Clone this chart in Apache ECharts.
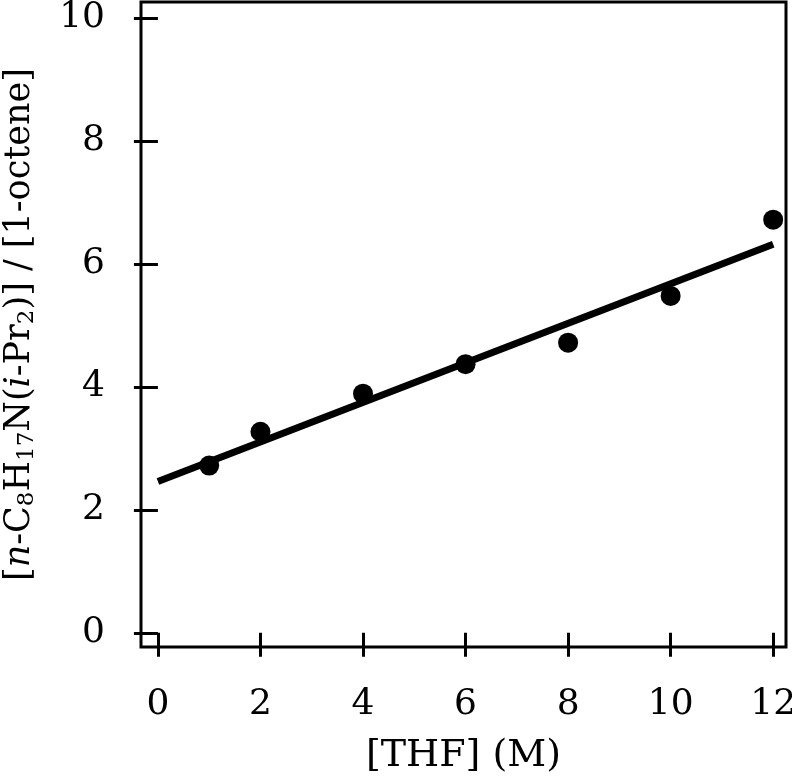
<!DOCTYPE html>
<html>
<head>
<meta charset="utf-8">
<script src="https://cdn.jsdelivr.net/npm/echarts@6/dist/echarts.min.js"></script>
<style>html,body{margin:0;padding:0;background:#fff;}#c{width:792px;height:781px;}</style>
</head>
<body>
<div id="c"></div>
<script>
// Data
var thf = [1, 2, 4, 6, 8, 10, 12];
var ratio = [2.72, 3.27, 3.89, 4.37, 4.72, 5.48, 6.72];
var fitX = [0, 12];
var fitY = [2.46, 6.32];
var xTicks = [0, 2, 4, 6, 8, 10, 12];
var yTicks = [0, 2, 4, 6, 8, 10];

var FONT = 'DejaVu Serif';
var chart = echarts.init(document.getElementById('c'), null, {renderer: 'canvas'});
var points = thf.map(function (x, i) { return [x, ratio[i]]; });
var fit = fitX.map(function (x, i) { return [x, fitY[i]]; });

var yName = '{b|[}{i|n}{b|-C}{s|8}{b|H}{s|17}{b|N(}{i|i}{b|-Pr}{s|2}{b|)] / [1-octene]}';

chart.setOption({
  animation: false,
  backgroundColor: '#fff',
  grid: {left: 141, right: 6, top: 2, bottom: 134, show: true, borderColor: '#000', borderWidth: 3,
         backgroundColor: 'transparent', containLabel: false, outerBoundsMode: 'none'},
  xAxis: {
    type: 'value', min: -0.33, max: 12.25,
    splitLine: {show: false},
    axisLine: {show: false},
    axisTick: {show: true, customValues: xTicks, length: 24, inside: false, lineStyle: {color: '#000', width: 3}},
    axisLabel: {customValues: xTicks, margin: 40, color: '#000', fontFamily: FONT, fontSize: 36},
    name: '[THF] (M)', nameLocation: 'middle', nameGap: 90,
    nameTextStyle: {color: '#000', fontFamily: FONT, fontSize: 38, verticalAlign: 'top'}
  },
  yAxis: {
    type: 'value', min: -0.23, max: 10.26,
    splitLine: {show: false},
    axisLine: {show: false},
    axisTick: {show: true, customValues: yTicks, length: 24, inside: false, lineStyle: {color: '#000', width: 3}},
    axisLabel: {customValues: yTicks, margin: 36, color: '#000', fontFamily: FONT, fontSize: 36},
    name: yName, nameLocation: 'middle', nameGap: 102, nameRotate: 90,
    nameTextStyle: {
      color: '#000', fontFamily: FONT, fontSize: 35,
      rich: {
        b: {fontFamily: FONT, fontSize: 35, color: '#000'},
        i: {fontFamily: FONT, fontSize: 35, fontStyle: 'italic', color: '#000'},
        s: {fontFamily: FONT, fontSize: 23, color: '#000', padding: [15, 0, 0, 0]}
      }
    }
  },
  series: [
    {type: 'line', data: fit, showSymbol: false, symbol: 'none', lineStyle: {color: '#000', width: 7, cap: 'butt'}, z: 2},
    {type: 'scatter', data: points, symbol: 'circle', symbolSize: 20, itemStyle: {color: '#000', opacity: 1}, z: 3}
  ]
});
</script>
</body>
</html>
